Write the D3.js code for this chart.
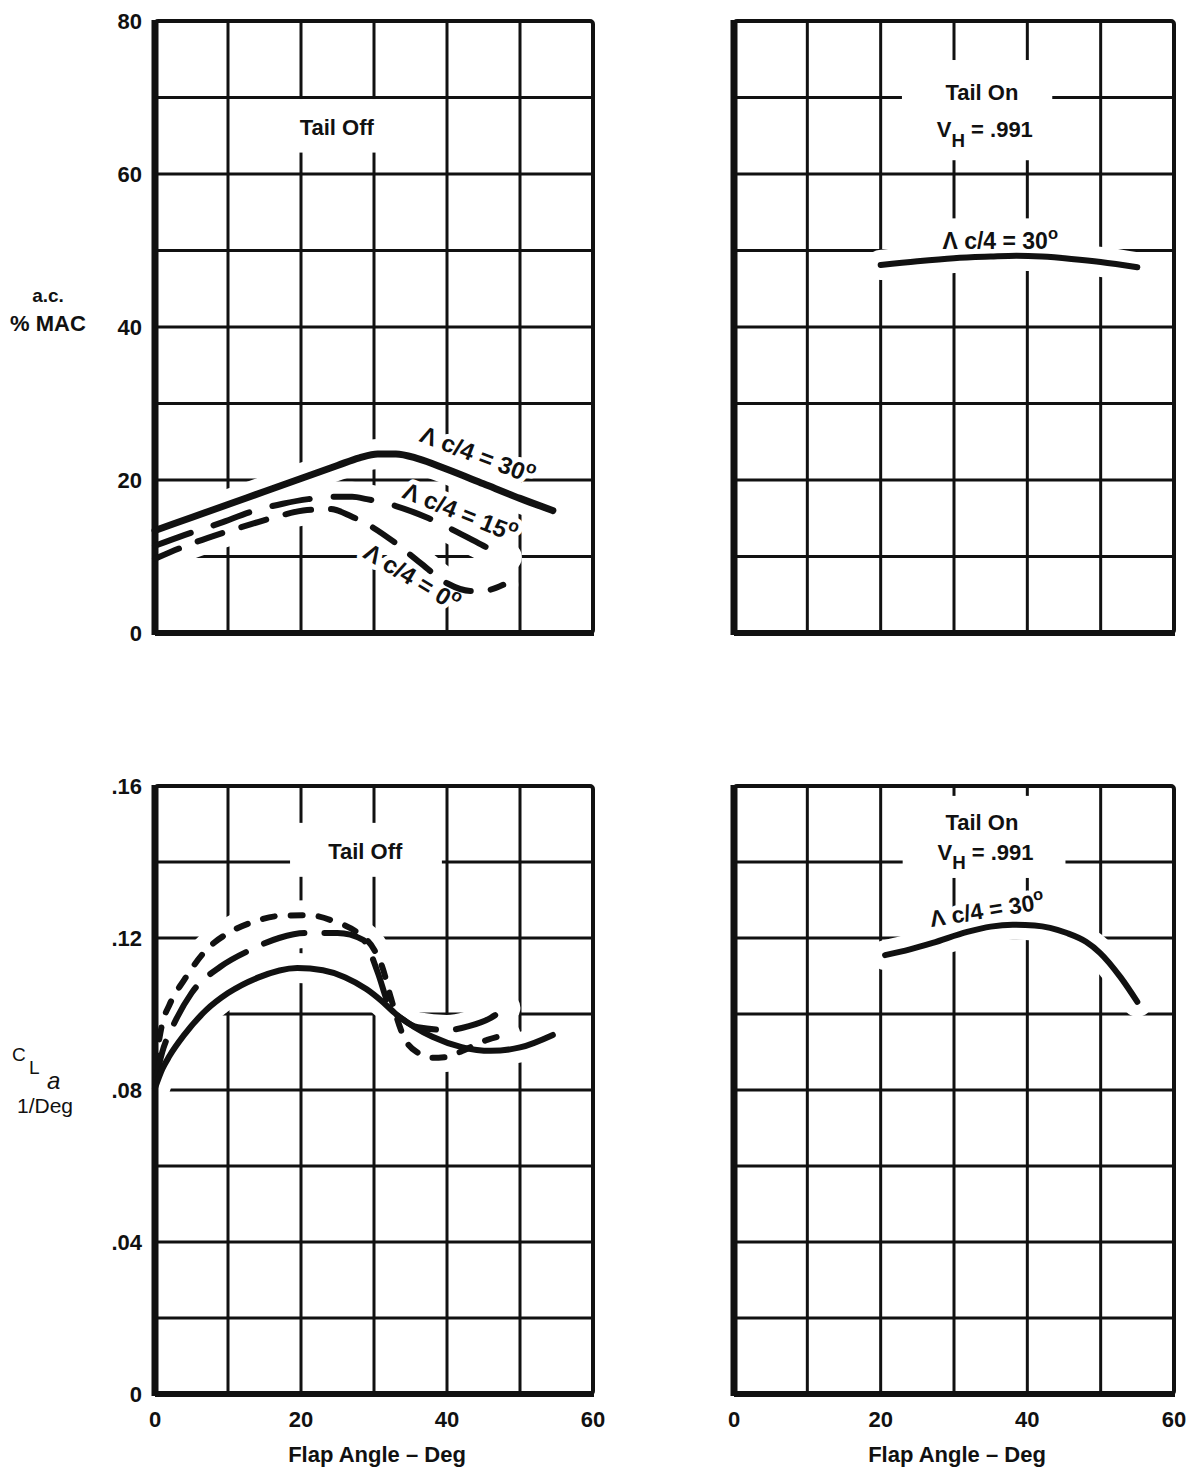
<!DOCTYPE html>
<html>
<head>
<meta charset="utf-8">
<script src="https://cdnjs.cloudflare.com/ajax/libs/d3/7.8.5/d3.min.js"></script>
<style>
	body { margin: 0; background: #fff; }
	svg { display: block; }
	text { font-family: "Liberation Sans", Arial, Helvetica, sans-serif; fill: #111; }
</style>
</head>
<body>
<svg id="chart"></svg>
<script>
/* globals d3: false */

var W = 1196, H = 1471;

// axes
var flapGrid = [0, 10, 20, 30, 40, 50, 60];
var flapTicks = [0, 20, 40, 60];
var acGrid = [0, 10, 20, 30, 40, 50, 60, 70, 80];
var acTicks = [0, 20, 40, 60, 80];
var claGrid = [0, 0.02, 0.04, 0.06, 0.08, 0.10, 0.12, 0.14, 0.16];
var claTicks = [0, 0.04, 0.08, 0.12, 0.16];

// a.c. (% MAC) vs flap angle, tail off: sweep 30, 15, 0 deg
var acOff30 = [[0, 13.4], [5, 15.1], [10, 16.8], [15, 18.5], [20, 20.2], [25, 21.9], [28, 22.9], [30.5, 23.4],
	[33, 23.4], [36, 22.8], [40, 21.4], [45, 19.5], [50, 17.6], [54.5, 16.0]];
var acOff15 = [[0, 11.4], [4, 12.8], [9, 14.4], [13, 15.8], [17.5, 16.9], [21, 17.5], [24.5, 17.8], [27, 17.8],
	[29, 17.5], [33, 16.6], [37.5, 15.0], [42, 12.9], [45, 11.4], [48.2, 9.9]];
var acOff0 = [[0, 9.7], [4.5, 11.5], [9, 13.0], [13.4, 14.3], [17, 15.3], [20.3, 16.0], [24, 16.2], [27, 15.2],
	[30, 13.7], [32.6, 12.0], [36.3, 9.2], [40, 6.5], [43.2, 5.5], [45.5, 5.6], [47.7, 6.3]];

// a.c. tail on, sweep 30
var acOn30 = [[20, 48.1], [25, 48.6], [30, 49.0], [35, 49.2], [38.5, 49.3], [42, 49.2], [46, 48.9], [50, 48.5], [55, 47.8]];

// CL alpha (1/deg), tail off
var claOffSolid = [[0, 0.0805], [1, 0.0855], [2, 0.089], [4, 0.0945], [7, 0.101], [10, 0.1055], [14, 0.1095],
	[19.5, 0.1121], [23, 0.1115], [26, 0.1097], [29, 0.1065], [31, 0.1035], [33, 0.1], [35.5, 0.0966],
	[38, 0.094], [42, 0.0913], [46, 0.0903], [50, 0.0912], [54.5, 0.0945]];
var claOffLong = [[0, 0.082], [1, 0.09], [2.5, 0.097], [5, 0.1055], [9, 0.1125], [13, 0.1168], [17, 0.12],
	[20.5, 0.1213], [25, 0.1213], [28.5, 0.1195], [30.5, 0.111], [32, 0.1025], [34, 0.0985], [36, 0.0965],
	[40, 0.0958], [43, 0.0968], [46, 0.099], [48, 0.1016]];
var claOffShort = [[0, 0.086], [1, 0.0975], [2, 0.1025], [4, 0.109], [7, 0.1168], [10.5, 0.1218], [13.4, 0.1242],
	[17, 0.1258], [21, 0.126], [24.4, 0.1245], [27.8, 0.1213], [30, 0.117], [31.2, 0.112], [32.2, 0.105],
	[34.2, 0.0935], [36, 0.0898], [38, 0.0885], [40, 0.0887], [42, 0.0902], [45.5, 0.0932], [48, 0.0945]];

// CL alpha tail on, sweep 30
var claOn30 = [[20.6, 0.1155], [24, 0.117], [27.1, 0.1187], [31.8, 0.1216], [35, 0.123], [38, 0.1235],
	[41, 0.1233], [45.4, 0.1213], [48, 0.119], [49.9, 0.1161], [52.7, 0.1097], [55, 0.1032]];

function lam(deg, sub) {
	return [{t: "\u039B c/4 = " + deg}, {t: sub, sup: true}];
}
function vh() {
	return [{t: "V"}, {t: "H", sub: true}, {t: " = .991", back: true}];
}

var claFmt = function(d) { return d === 0 ? "0" : d3.format(".2f")(d).replace(/^0/, ""); };

var panels = [
	{
		xr: [155, 593], yr: [633, 21], yDomain: [0, 80], yGrid: acGrid, yTicks: acTicks, yFmt: String, xTicks: false,
		boxes: [[10.5, 39.5, 62.8, 69.8]],
		series: [
			{pts: acOff30, w: 7},
			{pts: acOff15, w: 6, dash: "38,24"},
			{pts: acOff0, w: 6, dash: "26,20"}
		],
		notes: [
			{d: 24.9, v: 65.1, size: 22, parts: [{t: "Tail Off"}]},
			{d: 44.2, v: 23.3, size: 24, rot: 21, mid: true, parts: lam("30", "o")},
			{d: 41.8, v: 15.8, size: 24, rot: 22, mid: true, parts: lam("15", "o")},
			{d: 35.2, v: 7.3, size: 24, rot: 31, mid: true, parts: lam("0", "o")}
		]
	},
	{
		xr: [734, 1174], yr: [633, 21], yDomain: [0, 80], yGrid: acGrid, yTicks: null, xTicks: false,
		boxes: [[22.9, 43.4, 61.8, 74.9], [23.6, 47.6, 47.5, 54.2]],
		series: [{pts: acOn30, w: 6}],
		notes: [
			{d: 33.8, v: 69.7, size: 22, parts: [{t: "Tail On"}]},
			{d: 34.2, v: 64.8, size: 22, parts: vh()},
			{d: 36.3, v: 50.2, size: 23, parts: lam("30", "o")}
		]
	},
	{
		xr: [155, 593], yr: [1394, 786], yDomain: [0, 0.16], yGrid: claGrid, yTicks: claTicks, yFmt: claFmt, xTicks: true,
		boxes: [[18.5, 39.3, 0.1361, 0.1503]],
		series: [
			{pts: claOffShort, w: 6, dash: "12,16"},
			{pts: claOffLong, w: 6, dash: "42,20"},
			{pts: claOffSolid, w: 6}
		],
		notes: [
			{d: 28.8, v: 0.1408, size: 22, parts: [{t: "Tail Off"}]}
		]
	},
	{
		xr: [734, 1174], yr: [1394, 786], yDomain: [0, 0.16], yGrid: claGrid, yTicks: null, xTicks: true,
		boxes: [[23, 45.2, 0.1358, 0.1574]],
		series: [{pts: claOn30, w: 6}],
		notes: [
			{d: 33.8, v: 0.1484, size: 22, parts: [{t: "Tail On"}]},
			{d: 34.3, v: 0.1405, size: 22, parts: vh()},
			{d: 34.5, v: 0.1274, size: 23, rot: -9, mid: true, parts: lam("30", "o")}
		]
	}
];

var svg = d3.select("#chart").attr("width", W).attr("height", H);
svg.append("rect").attr("width", W).attr("height", H).attr("fill", "#fff");

function writeNote(g, n, x, y) {
	var t = g.append("text")
		.attr("text-anchor", "middle")
		.attr("font-weight", "bold")
		.attr("font-size", n.size)
		.attr("transform", "translate(" + x(n.d) + "," + y(n.v) + ")" + (n.rot ? "rotate(" + n.rot + ")" : ""))
		.attr("dy", n.mid ? "0.35em" : null);
	n.parts.forEach(function(p) {
		var s = t.append("tspan").text(p.t);
		if (p.sup) s.attr("font-size", n.size * 0.72).attr("dy", -n.size * 0.42);
		if (p.sub) s.attr("font-size", n.size * 0.85).attr("dy", n.size * 0.42);
		if (p.back) s.attr("dy", -n.size * 0.42);
	});
	return t;
}

function drawPanel(p) {
	var x = d3.scaleLinear().domain([0, 60]).range(p.xr);
	var y = d3.scaleLinear().domain(p.yDomain).range(p.yr);
	var g = svg.append("g");

	// inner grid
	g.selectAll(".vg").data(flapGrid.slice(1, -1)).enter().append("line")
		.attr("x1", function(d) { return x(d); }).attr("x2", function(d) { return x(d); })
		.attr("y1", p.yr[1]).attr("y2", p.yr[0])
		.attr("stroke", "#111").attr("stroke-width", 3);
	g.selectAll(".hg").data(p.yGrid.slice(1, -1)).enter().append("line")
		.attr("y1", function(d) { return y(d); }).attr("y2", function(d) { return y(d); })
		.attr("x1", p.xr[0]).attr("x2", p.xr[1])
		.attr("stroke", "#111").attr("stroke-width", 2.8);

	// blank space the draftsman left around the captions
	g.selectAll(".box").data(p.boxes).enter().append("rect")
		.attr("x", function(b) { return x(b[0]); })
		.attr("width", function(b) { return x(b[1]) - x(b[0]); })
		.attr("y", function(b) { return y(b[3]); })
		.attr("height", function(b) { return y(b[2]) - y(b[3]); })
		.attr("fill", "#fff");

	var line = d3.line()
		.curve(d3.curveMonotoneX)
		.x(function(d) { return x(d[0]); })
		.y(function(d) { return y(d[1]); });

	// white halo under curves (grid broken around them)
	g.selectAll(".halo").data(p.series).enter().append("path")
		.attr("d", function(s) { return line(s.pts); })
		.attr("fill", "none").attr("stroke", "#fff")
		.attr("stroke-width", 30)
		.attr("stroke-linecap", "round").attr("stroke-linejoin", "round");

	// halo under notes
	p.notes.forEach(function(n) {
		writeNote(g, n, x, y)
			.style("fill", "#fff").attr("stroke", "#fff")
			.attr("stroke-width", 10).attr("stroke-linejoin", "round");
	});

	// frame
	g.append("rect")
		.attr("x", p.xr[0]).attr("y", p.yr[1])
		.attr("width", p.xr[1] - p.xr[0]).attr("height", p.yr[0] - p.yr[1])
		.attr("rx", 3)
		.attr("fill", "none").attr("stroke", "#111").attr("stroke-width", 4);
	g.append("line")
		.attr("x1", p.xr[0]).attr("x2", p.xr[0])
		.attr("y1", p.yr[1] - 1).attr("y2", p.yr[0] + 2)
		.attr("stroke", "#111").attr("stroke-width", 7);
	g.append("line")
		.attr("x1", p.xr[0]).attr("x2", p.xr[1] + 1)
		.attr("y1", p.yr[0]).attr("y2", p.yr[0])
		.attr("stroke", "#111").attr("stroke-width", 6);

	// curves
	g.selectAll(".curve").data(p.series).enter().append("path")
		.attr("d", function(s) { return line(s.pts); })
		.attr("fill", "none").attr("stroke", "#111")
		.attr("stroke-width", function(s) { return s.w; })
		.attr("stroke-dasharray", function(s) { return s.dash || null; })
		.attr("stroke-linecap", "round").attr("stroke-linejoin", "round");

	p.notes.forEach(function(n) { writeNote(g, n, x, y); });

	// tick labels
	if (p.yTicks) {
		g.selectAll(".yt").data(p.yTicks).enter().append("text")
			.attr("x", p.xr[0] - 13)
			.attr("y", function(d) { return y(d) + 8; })
			.attr("text-anchor", "end")
			.attr("font-size", 22).attr("font-weight", "bold")
			.text(p.yFmt);
	}
	if (p.xTicks) {
		g.selectAll(".xt").data(flapTicks).enter().append("text")
			.attr("x", function(d) { return x(d); })
			.attr("y", p.yr[0] + 33)
			.attr("text-anchor", "middle")
			.attr("font-size", 22).attr("font-weight", "bold")
			.text(String);
		g.append("text")
			.attr("x", (p.xr[0] + p.xr[1]) / 2 + 3)
			.attr("y", p.yr[0] + 68)
			.attr("text-anchor", "middle")
			.attr("font-size", 22).attr("font-weight", "bold")
			.text("Flap Angle \u2013 Deg");
	}
}

panels.forEach(drawPanel);

// y axis titles
var yt = svg.append("g").attr("font-weight", "bold");
yt.append("text").attr("x", 48).attr("y", 302).attr("text-anchor", "middle").attr("font-size", 19).text("a.c.");
yt.append("text").attr("x", 48).attr("y", 331).attr("text-anchor", "middle").attr("font-size", 22).text("% MAC");

var cl = svg.append("g");
cl.append("text").attr("x", 12).attr("y", 1061).attr("font-size", 19).text("C");
cl.append("text").attr("x", 29).attr("y", 1074).attr("font-size", 19).text("L");
cl.append("text").attr("x", 47).attr("y", 1089).attr("font-size", 24).attr("font-style", "italic").text("a");
cl.append("text").attr("x", 45).attr("y", 1113).attr("text-anchor", "middle").attr("font-size", 21).text("1/Deg");
</script>
</body>
</html>
